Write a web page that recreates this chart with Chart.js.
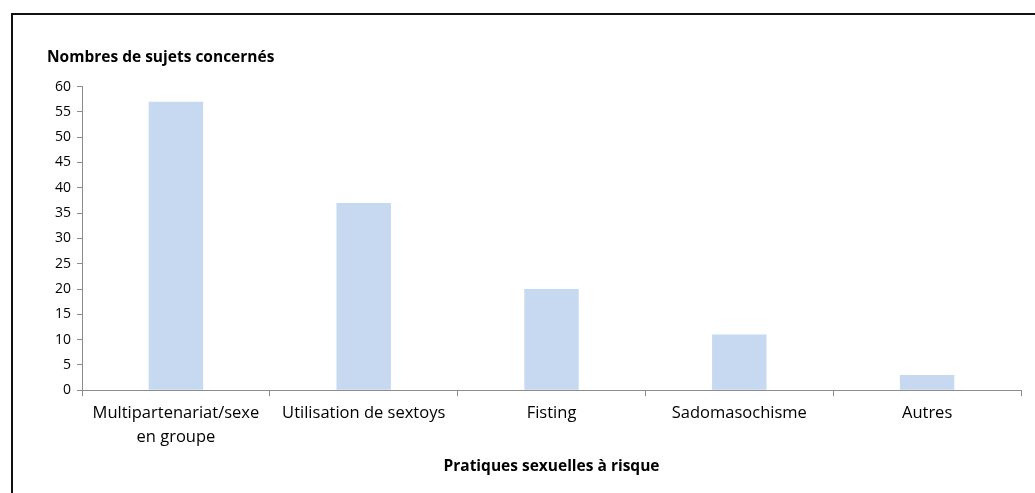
<!DOCTYPE html>
<html>
<head>
<meta charset="utf-8">
<script src="https://cdn.jsdelivr.net/npm/chart.js@4/dist/chart.umd.min.js"></script>
<style>
  body { margin: 0; background: #fff; }
  #frame {
    position: absolute; left: 11px; top: 13px; width: 1100px; height: 600px;
    border-left: 2px solid #111; border-top: 2px solid #111;
  }
  #wrap { position: absolute; left: 0; top: 0; width: 1035px; height: 493px; }
</style>
</head>
<body>
<div id="frame"></div>
<div id="wrap"><canvas id="chart"></canvas></div>
<script>
const categories = [
  ['Multipartenariat/sexe', 'en groupe'],
  'Utilisation de sextoys',
  'Fisting',
  'Sadomasochisme',
  'Autres'
];
const subjects = [57, 37, 20, 11, 3];
const yTitle = 'Nombres de sujets concernés';
const xTitle = 'Pratiques sexuelles à risque';

const fontFamily = "'Open Sans', sans-serif";
const axisGrey = '#8c8c8c';

new Chart(document.getElementById('chart'), {
  type: 'bar',
  data: {
    labels: categories,
    datasets: [{
      data: subjects,
      backgroundColor: '#c6d9f1',
      borderWidth: 0,
      categoryPercentage: 1,
      barPercentage: 0.29
    }]
  },
  options: {
    responsive: true,
    maintainAspectRatio: false,
    animation: false,
    layout: { padding: { left: 47, right: 14, top: 48, bottom: 17 } },
    plugins: {
      legend: { display: false },
      tooltip: { enabled: false },
      title: {
        display: true,
        text: yTitle,
        align: 'start',
        color: '#000',
        font: { family: fontFamily, size: 15.5, weight: 'bold' },
        padding: { top: 0, bottom: 20 }
      }
    },
    scales: {
      x: {
        offset: true,
        grid: {
          offset: true,
          drawOnChartArea: false,
          drawTicks: true,
          tickLength: 6,
          color: axisGrey
        },
        border: { color: axisGrey, width: 1 },
        ticks: {
          color: '#000',
          font: { family: fontFamily, size: 16.5, lineHeight: 1.4 },
          maxRotation: 0,
          autoSkip: false,
          padding: 6
        },
        title: {
          display: true,
          text: xTitle,
          color: '#000',
          font: { family: fontFamily, size: 15.5, weight: 'bold' },
          padding: { top: 3, bottom: 0 }
        }
      },
      y: {
        min: 0,
        max: 60,
        ticks: {
          stepSize: 5,
          color: '#000',
          font: { family: fontFamily, size: 14 },
          padding: 6
        },
        grid: {
          drawOnChartArea: false,
          drawTicks: true,
          tickLength: 5,
          color: axisGrey
        },
        border: { color: axisGrey, width: 1 },
        afterFit: (scale) => { scale.width = 35; }
      }
    }
  }
});
</script>
</body>
</html>
